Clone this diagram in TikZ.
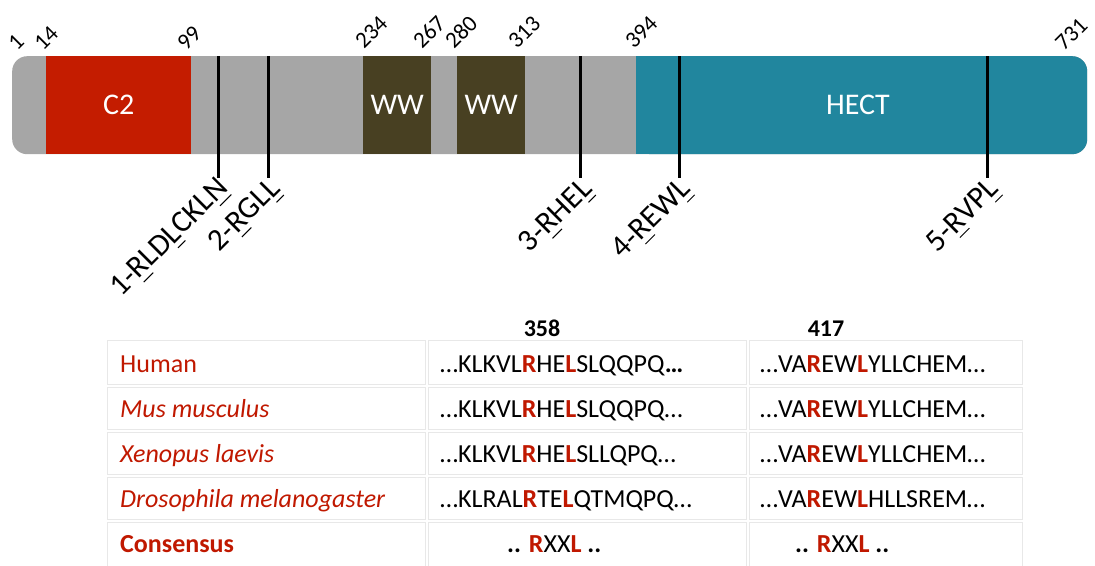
\documentclass[tikz,border=0pt]{standalone}
\usepackage{fontspec}
\setmainfont{Carlito}
\definecolor{bargrey}{RGB}{166,166,166}
\definecolor{c2red}{RGB}{196,28,0}
\definecolor{wwbrown}{RGB}{72,64,34}
\definecolor{hectteal}{RGB}{33,134,158}
\definecolor{txtred}{RGB}{192,24,0}
\definecolor{cellline}{RGB}{232,232,232}
\newcommand{\redb}[1]{\textcolor{txtred}{\textbf{#1}}}
% thin underline set a little below the baseline, for motif residues
\newcommand{\motul}[1]{\setbox0\hbox{#1}\rlap{\hspace{0.1\wd0}\rule[-5.5pt]{0.8\wd0}{0.9pt}}\box0}
\begin{document}
\begin{tikzpicture}[x=1pt,y=1pt,
  domainbox/.style={draw=none, text=white, inner sep=0, anchor=north west,
    minimum height=98, font=\fontsize{30}{36}\selectfont},
  posnum/.style={rotate=45, anchor=base west, inner sep=0, font=\fontsize{23}{27}\selectfont},
  motifline/.style={line width=3pt, black},
  motiflabel/.style={rotate=45, anchor=north east, inner sep=0, font=\fontsize{31}{36}\selectfont},
  cellbox/.style={draw=cellline, line width=1pt},
  rowname/.style={anchor=base west, inner sep=0, text=txtred, font=\fontsize{26}{30}\selectfont},
  seqtext/.style={anchor=base west, inner sep=0, font=\fontsize{26}{30}\selectfont},
  headnum/.style={anchor=base, inner sep=0, font=\fontsize{24}{28}\selectfont\bfseries}]
\useasboundingbox (0,0) rectangle (1095,-565);

% protein bar and its domains
\node[fill=bargrey, rounded corners=15, minimum width=1075, minimum height=98,
  inner sep=0, anchor=north west] (bar) at (12,-56) {};
\node[domainbox, fill=c2red, minimum width=145] (c2) at (46,-56) {C2};
\node[domainbox, fill=wwbrown, minimum width=68] (ww1) at (363,-56) {WW};
\node[domainbox, fill=wwbrown, minimum width=68] (ww2) at (457,-56) {WW};
\node[domainbox, fill=hectteal, rounded corners=15, minimum width=451] (hect) at (636,-56) {};
\fill[hectteal] (636,-56) rectangle (670,-154);
\node[text=white, inner sep=0, font=\fontsize{30}{36}\selectfont] (hecttext) at (858,-105) {HECT};

% residue numbers
\node[posnum] (p1) at (17,-52) {1};
\node[posnum] (p14) at (43,-52) {14};
\node[posnum] (p99) at (186,-52) {99};
\node[posnum] (p234) at (364,-50) {234};
\node[posnum] (p267) at (422,-50) {267};
\node[posnum] (p280) at (454,-50) {280};
\node[posnum] (p313) at (517,-50) {313};
\node[posnum] (p394) at (634,-50) {394};
\node[posnum] (p731) at (1064,-52) {731};

% motif positions
\foreach \i/\xx in {1/218, 2/268, 3/580, 4/679, 5/987} {
  \coordinate (mt\i) at (\xx,-56);
  \coordinate (mb\i) at (\xx,-178);
  \draw[motifline] (mt\i) -- (mb\i);
}
\node[motiflabel] (l1) at ([shift={(-3,3)}]mb1) {1-\motul{R}LD\motul{L}CKL\motul{N}};
\node[motiflabel] (l2) at ([shift={(-1,2)}]mb2) {2-\motul{R}GL\motul{L}};
\node[motiflabel] (l3) at ([shift={(-1,2)}]mb3) {3-\motul{R}HE\motul{L}};
\node[motiflabel] (l4) at ([shift={(-1,2)}]mb4) {4-\motul{R}EW\motul{L}};
\node[motiflabel] (l5) at ([shift={(-1,2)}]mb5) {5-\motul{R}VP\motul{L}};

% alignment table
\foreach \top/\bot in {340/384, 387/429, 432/474, 477/519, 522/570} {
  \draw[cellbox] (107,-\top) rectangle (425,-\bot);
  \draw[cellbox] (428,-\top) rectangle (746,-\bot);
  \draw[cellbox] (749,-\top) rectangle (1022,-\bot);
}
\node[headnum] (h358) at (542,-336) {358};
\node[headnum] (h417) at (826,-336) {417};

\node[rowname] (n1) at (120,-372) {Human};
\node[rowname] (n2) at (120,-417) {\itshape Mus musculus};
\node[rowname] (n3) at (120,-462) {\itshape Xenopus laevis};
\node[rowname] (n4) at (120,-507) {\itshape Drosophila melanogaster};
\node[rowname] (n5) at (120,-552) {\bfseries Consensus};

\node[seqtext] (a1) at (440,-372) {…KLKVL\redb{R}HE\redb{L}SLQQPQ\textbf{…}};
\node[seqtext] (a2) at (440,-417) {…KLKVL\redb{R}HE\redb{L}SLQQPQ…};
\node[seqtext] (a3) at (440,-462) {…KLKVL\redb{R}HE\redb{L}SLLQPQ…};
\node[seqtext] (a4) at (440,-507) {…KLRAL\redb{R}TE\redb{L}QTMQPQ…};
\node[seqtext] (a5) at (507,-552) {\textbf{..} \redb{R}XX\redb{L} \textbf{..}};

\node[seqtext] (b1) at (760,-372) {…VA\redb{R}EW\redb{L}YLLCHEM…};
\node[seqtext] (b2) at (760,-417) {…VA\redb{R}EW\redb{L}YLLCHEM…};
\node[seqtext] (b3) at (760,-462) {…VA\redb{R}EW\redb{L}YLLCHEM…};
\node[seqtext] (b4) at (760,-507) {…VA\redb{R}EW\redb{L}HLLSREM…};
\node[seqtext] (b5) at (795,-552) {\textbf{..} \redb{R}XX\redb{L} \textbf{..}};
\end{tikzpicture}
\end{document}
